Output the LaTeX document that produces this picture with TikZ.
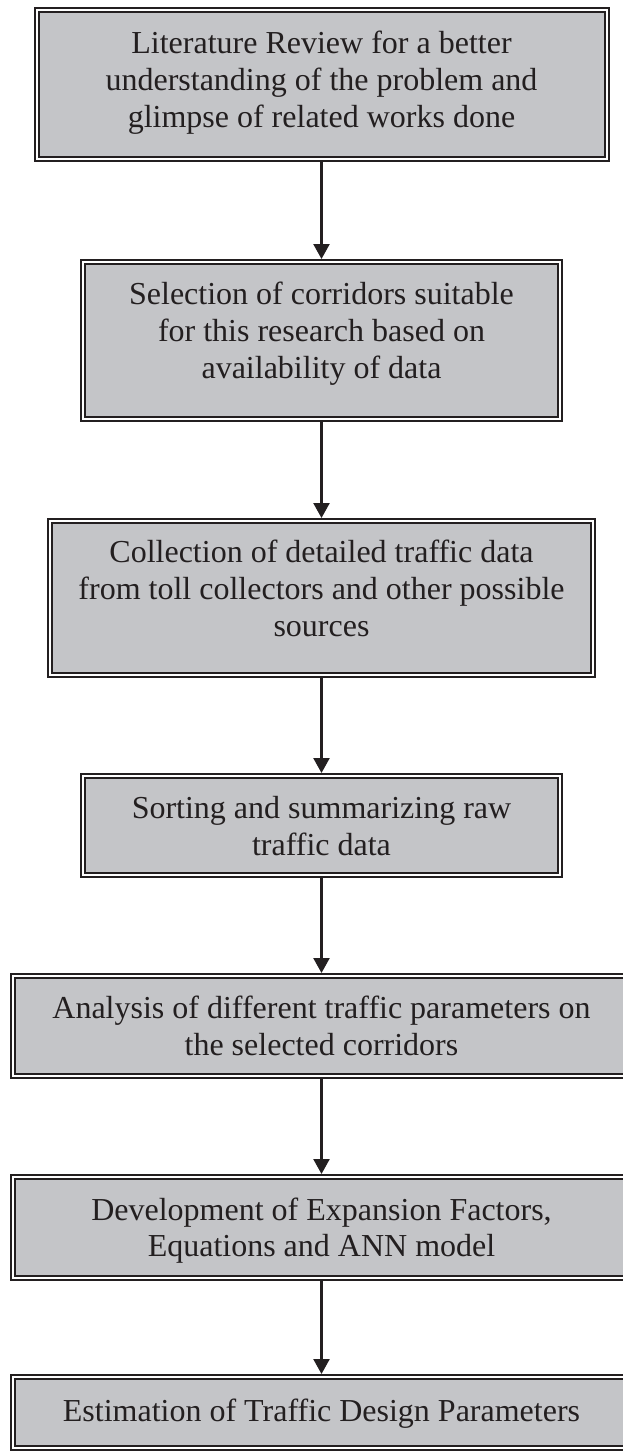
\documentclass[tikz,border=0pt]{standalone}
\usepackage{fontspec}
\setmainfont{Liberation Serif}
\usetikzlibrary{arrows.meta}
\definecolor{boxfill}{RGB}{196,197,200}
\definecolor{ink}{RGB}{35,31,32}
\begin{document}
\begin{tikzpicture}[x=1pt,y=-1pt,
  stepbox/.style={rectangle, draw=ink, fill=boxfill, line width=2pt, double=white, double distance=2pt, inner sep=0pt, outer sep=3pt},
  steptext/.style={text=ink, align=center, font=\fontsize{32}{36.7}\selectfont, inner sep=0pt},
  flow/.style={draw=ink, line width=2.4pt, -{Triangle[width=16pt,length=15pt]}}]
\useasboundingbox (0,0) rectangle (623,1452);
\clip (0,0) rectangle (623,1452);
% boxes
\node[stepbox, minimum width=570pt, minimum height=149pt] (b1) at (321.5,84.5) {};
\node[stepbox, minimum width=477pt, minimum height=157pt] (b2) at (321.5,340.5) {};
\node[stepbox, minimum width=543pt, minimum height=154pt] (b3) at (321.5,598) {};
\node[stepbox, minimum width=477pt, minimum height=99pt] (b4) at (321.5,825.5) {};
\node[stepbox, minimum width=617pt, minimum height=100pt] (b5) at (321.5,1026) {};
\node[stepbox, minimum width=617pt, minimum height=101pt] (b6) at (321.5,1227.5) {};
\node[stepbox, minimum width=617pt, minimum height=71pt] (b7) at (321.5,1412.5) {};
% texts
\node[steptext] (t1) at (321.5,83.35) {\strut Literature Review for a better\\understanding of the problem and\\glimpse of related works done\strut};
\node[steptext] (t2) at (321.5,334.35) {\strut Selection of corridors suitable\\for this research based on\\availability of data\strut};
\node[steptext] (t3) at (321.5,592) {\strut Collection of detailed traffic data\\from toll collectors and other possible\\sources\strut};
\node[steptext] (t4) at (321.5,829.3) {\strut Sorting and summarizing raw\\traffic data\strut};
\node[steptext] (t5) at (321.5,1029.3) {\strut Analysis of different traffic parameters on\\the selected corridors\strut};
\node[steptext] (t6) at (321.5,1231) {\strut Development of Expansion Factors,\\Equations and ANN model\strut};
\node[steptext] (t7) at (321.5,1414.35) {\strut Estimation of Traffic Design Parameters\strut};
% connectors
\draw[flow] (b1.south) -- (b2.north);
\draw[flow] (b2.south) -- (b3.north);
\draw[flow] (b3.south) -- (b4.north);
\draw[flow] (b4.south) -- (b5.north);
\draw[flow] (b5.south) -- (b6.north);
\draw[flow] (b6.south) -- (b7.north);
\end{tikzpicture}
\end{document}
